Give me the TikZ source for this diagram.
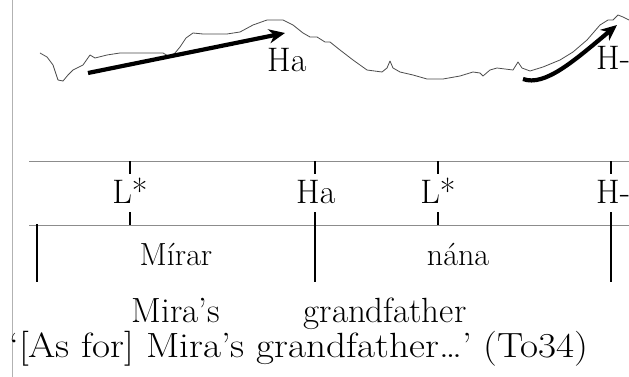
\documentclass[tikz,border=0pt]{standalone}
\usepackage{fontspec}
\usetikzlibrary{arrows.meta}
\begin{document}
\begin{tikzpicture}[x=1pt,y=-1pt,
  tierline/.style={draw=black!45, line width=0.9pt},
  tick/.style={draw=black, line width=2.8pt},
  contour/.style={draw=black!70, line width=0.8pt, line join=round},
  pitcharrow/.style={draw=black, line width=4.2pt, -{Stealth[length=16pt,width=14pt,inset=5pt]}},
  tonelab/.style={inner sep=0pt, anchor=base, font=\fontsize{34}{36}\selectfont},
  wordlab/.style={inner sep=0pt, anchor=base, font=\fontsize{32}{34}\selectfont},
  glosslab/.style={inner sep=0pt, anchor=base, font=\fontsize{35}{37}\selectfont}]
\useasboundingbox (0,0) rectangle (629,377);
\fill[white] (0,0) rectangle (629,377);
% left page edge
\draw[draw=black!30, line width=0.8pt] (12,0) -- (12,377);
% pitch contour
\draw[contour] (40,53) -- (47,57) -- (53,65) -- (58,80) -- (63,81) -- (68,75) -- (73,70)
  -- (83,65) -- (90,55) -- (95,58) -- (107,55) -- (120,53) -- (140,53) -- (163,53)
  -- (170,57) -- (175,53) -- (180,47) -- (186,38) -- (193,33) -- (203,34) -- (227,34)
  -- (240,32) -- (253,25) -- (267,20) -- (283,20) -- (293,25) -- (303,33) -- (310,37)
  -- (317,37) -- (325,42) -- (330,42) -- (340,50) -- (353,60) -- (367,70) -- (382,72)
  -- (387,68) -- (390,61) -- (393,68) -- (400,72) -- (413,75) -- (427,79) -- (443,79)
  -- (460,76) -- (473,72) -- (480,73) -- (483,76) -- (490,70) -- (497,68) -- (513,70)
  -- (518,62) -- (522,68) -- (530,71) -- (543,67) -- (560,60) -- (573,52) -- (587,40)
  -- (600,25) -- (608,20) -- (613,20) -- (618,15) -- (623,17) -- (629,20);
% pitch arrows
\coordinate (a1s) at (88,73);
\coordinate (a1e) at (285,33);
\draw[pitcharrow] (a1s) -- (a1e);
\coordinate (a2s) at (523,79);
\coordinate (a2e) at (617,25);
\draw[pitcharrow] (a2s) .. controls (545,87) and (575,60) .. (a2e);
\node[tonelab, anchor=base west] (tHa) at (267,72) {Ha};
\node[tonelab, anchor=base west] (tHm) at (596,70) {H-};
% tone tier
\coordinate (tl0) at (29,161);
\coordinate (tl1) at (629,161);
\coordinate (bl0) at (29,225);
\coordinate (bl1) at (629,225);
\draw[tierline] (tl0) -- (tl1);
\draw[tierline] (bl0) -- (bl1);
\node[tonelab] (L1) at (130,203) {L*};
\node[tonelab, anchor=base west] (H1) at (296,203) {Ha};
\node[tonelab] (L2) at (438,203) {L*};
\node[tonelab, anchor=base west] (H2) at (596,203) {H-};
% ticks
\draw[tick] (130,161) -- (130,174);
\draw[tick] (130,212) -- (130,225);
\draw[tick] (315,161) -- (315,174);
\draw[tick] (315,212) -- (315,282);
\draw[tick] (438,161) -- (438,174);
\draw[tick] (438,212) -- (438,225);
\draw[tick] (611,161) -- (611,174);
\draw[tick] (611,212) -- (611,282);
\draw[tick] (37,224) -- (37,282);
% words
\node[wordlab] (w1) at (176,265) {Mírar};
\node[wordlab] (w2) at (458,265) {nána};
\node[glosslab] (g1) at (176,322) {Mira’s};
\node[glosslab] (g2) at (385,322) {grandfather};
\node[glosslab, anchor=base west] (tr) at (9,357) {\scalebox{1.12}[1]{‘[As for] Mira’s grandfather…’ (To34)}};
\end{tikzpicture}
\end{document}
